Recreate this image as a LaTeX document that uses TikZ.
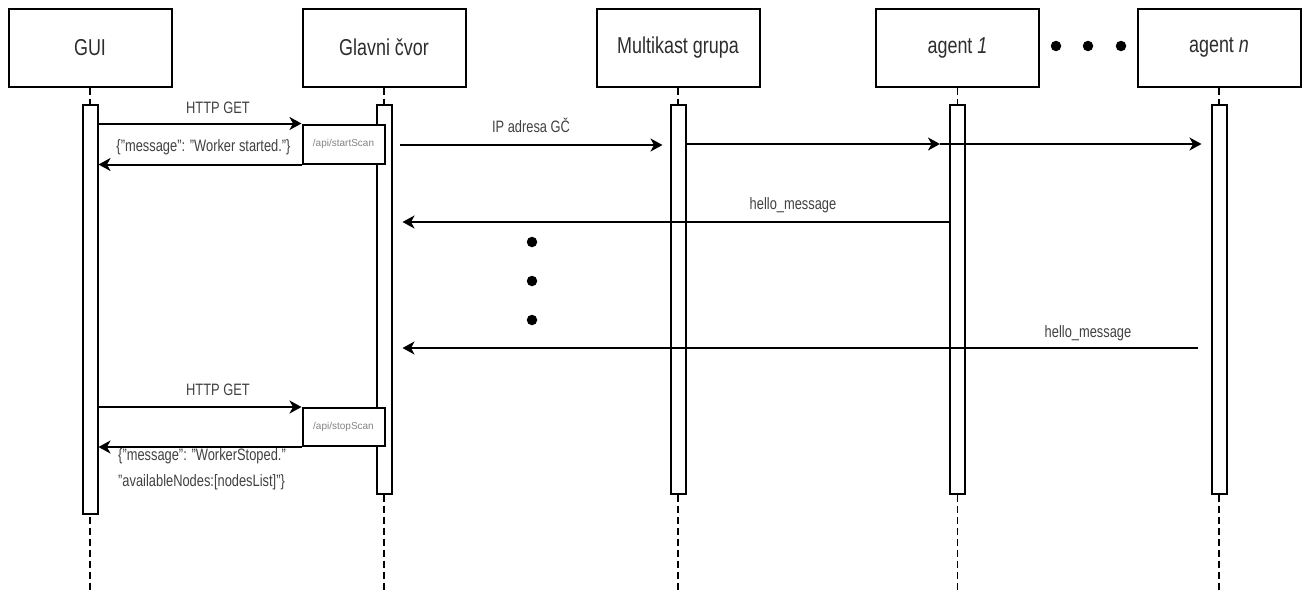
\documentclass[tikz,border=0pt]{standalone}
\usepackage{fontspec}
\setmainfont{Liberation Sans}
\usetikzlibrary{arrows.meta}
\definecolor{headtxt}{RGB}{45,45,45}
\definecolor{msgtxt}{RGB}{65,65,65}
\definecolor{apitxt}{RGB}{130,130,130}
% Condensed text, as the labels are set narrow
\newcommand{\cond}[1]{\scalebox{0.78}[1]{#1}}

\begin{document}
\begin{tikzpicture}[x=1pt,y=-1pt,
  header/.style={draw, line width=2pt, minimum width=163pt, minimum height=78pt,
    inner sep=0pt, font=\fontsize{23}{26}\selectfont, text=headtxt},
  actbar/.style={draw, fill=white, line width=2pt, minimum width=15pt, inner sep=0pt},
  life/.style={line width=1.3pt, dash pattern=on 7pt off 4pt},
  msg/.style={line width=2pt, -{Stealth[length=12pt,width=13pt,inset=3.5pt]}},
  msglabel/.style={font=\fontsize{16.5}{19}\selectfont, text=msgtxt, inner sep=0pt, anchor=base},
  apibox/.style={draw, fill=white, line width=2pt, minimum width=82pt, inner sep=0pt,
    font=\fontsize{10}{12}\selectfont, text=apitxt},
  bigdot/.style={circle, fill=black, inner sep=0pt, minimum size=10.5pt}]

\useasboundingbox (0,0) rectangle (1303,592);

% participants
\node[header] (gui) at (90,47.5) {\cond{GUI}};
\node[header] (gc)  at (384,47.5) {\cond{Glavni čvor}};
\node[header] (mc)  at (678,47.5) {\cond{Multikast grupa}};
\node[header] (a1)  at (957.5,47.5) {\cond{agent \textit{1}}};
\node[header] (an)  at (1219,47.5) {\cond{agent \textit{n}}};

% ellipsis between the agents
\node[bigdot] (hd1) at (1056,46) {};
\node[bigdot] (hd2) at (1088,46) {};
\node[bigdot] (hd3) at (1121,46) {};

% lifeline ends
\coordinate (guiend) at (90,592);
\coordinate (gcend)  at (384,592);
\coordinate (mcend)  at (678,592);
\coordinate (a1end)  at (957.5,592);
\coordinate (anend)  at (1219,592);

\draw[life] (gui.south) -- (guiend);
\draw[life] (gc.south)  -- (gcend);
\draw[life] (mc.south)  -- (mcend);
\draw[life] (a1.south)  -- (a1end);
\draw[life] (an.south)  -- (anend);

% activation bars
\node[actbar, minimum height=409pt] (guibar) at (90,309.5) {};
\node[actbar, minimum height=389pt] (gcbar)  at (384,299.5) {};
\node[actbar, minimum height=389pt] (mcbar)  at (678,299.5) {};
\node[actbar, minimum height=389pt] (a1bar)  at (957.5,299.5) {};
\node[actbar, minimum height=389pt] (anbar)  at (1219,299.5) {};

% endpoint boxes on the main node
\node[apibox, minimum height=39pt] (startapi) at (343.5,144) {/api/startScan};
\node[apibox, minimum height=38pt] (stopapi)  at (343.5,427) {/api/stopScan};

% start scan request and reply
\draw[msg] (guibar.east |- startapi.north) -- (startapi.north west);
\node[msglabel] (lget1) at (218,113) {\cond{HTTP GET}};
\draw[msg] (startapi.south west) -- (guibar.east |- startapi.south);
\node[msglabel] (lstarted) at (203.5,151) {\cond{\{"message": "Worker started."\}}};

% multicast of the main node address
\coordinate (ipstart) at (400,145);
\draw[msg, shorten >=7pt] (ipstart) -- (mcbar.west |- ipstart);
\node[msglabel] (lip) at (531,132) {\cond{IP adresa GČ}};
\coordinate (a1tip) at (940,144);
\draw[msg] (mcbar.east |- a1tip) -- (a1tip);
\draw[msg, shorten >=9pt] (a1tip) -- (anbar.west |- a1tip);

% replies of the agents
\coordinate (h1) at (957.5,222);
\draw[msg, shorten >=10pt] (a1bar.west |- h1) -- (gcbar.east |- h1);
\node[msglabel] (lhello1) at (793,209) {\cond{hello\_message}};

\node[bigdot] (vd1) at (532,242) {};
\node[bigdot] (vd2) at (532,281) {};
\node[bigdot] (vd3) at (532,320) {};

\coordinate (h2) at (1198,348);
\draw[msg, shorten >=10pt] (h2) -- (gcbar.east |- h2);
\node[msglabel] (lhello2) at (1088,337) {\cond{hello\_message}};

% stop scan request and reply
\draw[msg] (guibar.east |- stopapi.north) -- (stopapi.north west);
\node[msglabel] (lget2) at (218,395) {\cond{HTTP GET}};
\draw[msg] (stopapi.south west) -- (guibar.east |- stopapi.south);
\node[msglabel, anchor=base west] (lstop1) at (118,460) {\cond{\{"message": "WorkerStoped."}};
\node[msglabel, anchor=base west] (lstop2) at (118,486) {\cond{"availableNodes:[nodesList]"\}}};

\end{tikzpicture}
\end{document}
